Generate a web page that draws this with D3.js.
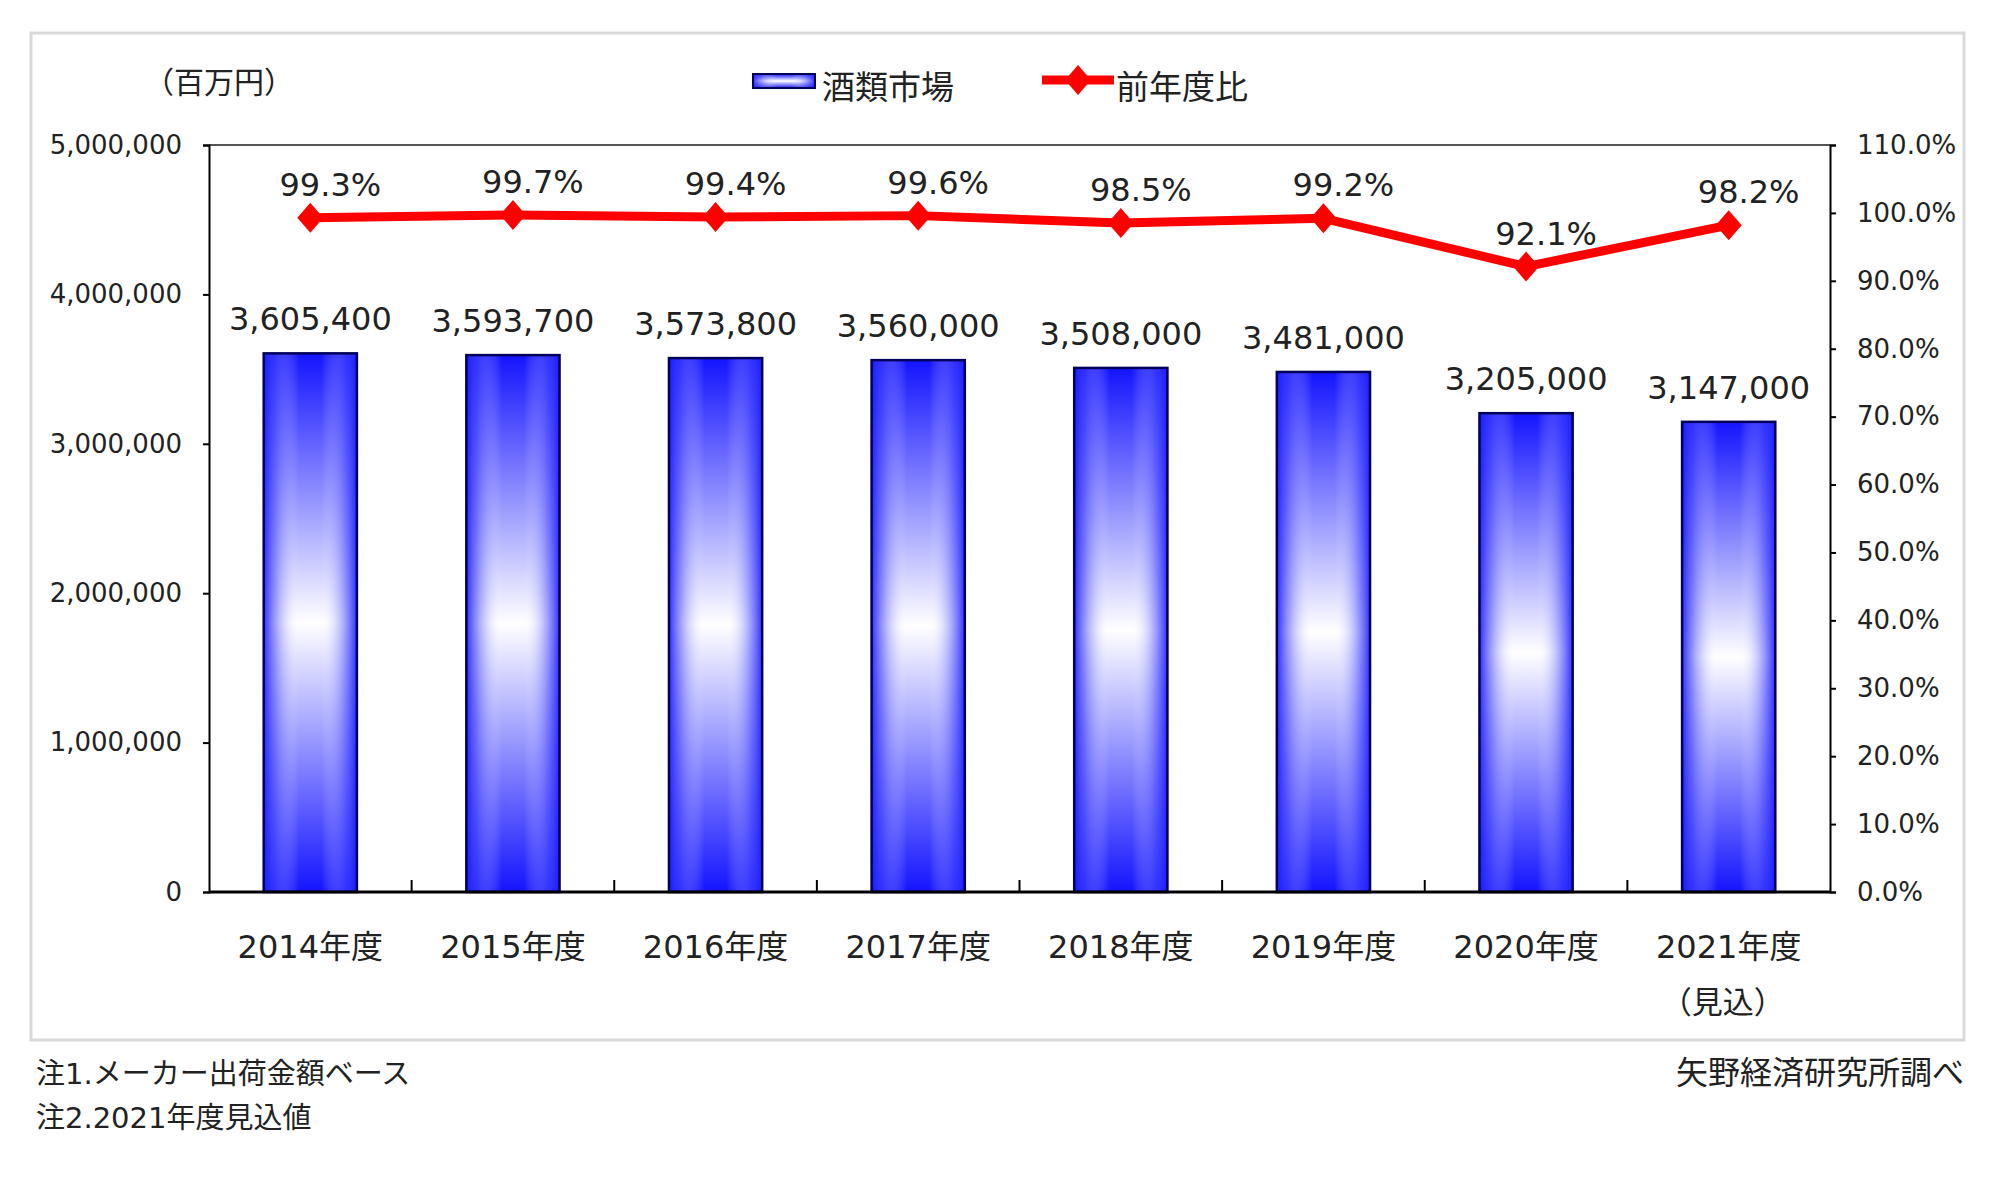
<!DOCTYPE html>
<html>
<head>
<meta charset="utf-8">
<script src="https://cdn.jsdelivr.net/npm/d3@7"></script>
<style>
  body { margin: 0; background: #fff; }
  text { font-family: "DejaVu Sans", "Noto Sans CJK JP", sans-serif; fill: #222; }
  .jp { font-family: "Noto Sans CJK JP", sans-serif; }
</style>
</head>
<body>
<svg id="chart" width="1993" height="1200"></svg>
<script>
"use strict";

// data
const years = ["2014年度", "2015年度", "2016年度", "2017年度", "2018年度", "2019年度", "2020年度", "2021年度"];
const market = [3605400, 3593700, 3573800, 3560000, 3508000, 3481000, 3205000, 3147000];
const ratio = [99.3, 99.7, 99.4, 99.6, 98.5, 99.2, 92.1, 98.2];
const leftTicks = [0, 1000000, 2000000, 3000000, 4000000, 5000000];
const rightTicks = [0, 10, 20, 30, 40, 50, 60, 70, 80, 90, 100, 110];
const notes = ["注1.メーカー出荷金額ベース", "注2.2021年度見込値"];

const W = 1993, H = 1200;
const plot = { left: 209, right: 1830, top: 145, bottom: 892 };

let svg = d3.select("#chart");
svg.append("rect").attr("width", W).attr("height", H).attr("fill", "#fff");

// outer frame
svg.append("rect")
  .attr("x", 31).attr("y", 33)
  .attr("width", 1933).attr("height", 1007)
  .attr("fill", "#fff")
  .attr("stroke", "#d9d9d9")
  .attr("stroke-width", 3);

let defs = svg.append("defs");
let gv = defs.append("linearGradient").attr("id", "barV")
  .attr("x1", 0).attr("y1", 0).attr("x2", 0).attr("y2", 1);
gv.append("stop").attr("offset", "0%").attr("stop-color", "#1414ff");
gv.append("stop").attr("offset", "50%").attr("stop-color", "#ffffff");
gv.append("stop").attr("offset", "100%").attr("stop-color", "#1414ff");

let gh = defs.append("linearGradient").attr("id", "barH")
  .attr("x1", 0).attr("y1", 0).attr("x2", 1).attr("y2", 0);
gh.append("stop").attr("offset", "0%").attr("stop-color", "#1a1aff").attr("stop-opacity", 0.9);
gh.append("stop").attr("offset", "12%").attr("stop-color", "#4a4aff").attr("stop-opacity", 0.55);
gh.append("stop").attr("offset", "38%").attr("stop-color", "#ffffff").attr("stop-opacity", 0);
gh.append("stop").attr("offset", "62%").attr("stop-color", "#ffffff").attr("stop-opacity", 0);
gh.append("stop").attr("offset", "88%").attr("stop-color", "#4a4aff").attr("stop-opacity", 0.55);
gh.append("stop").attr("offset", "100%").attr("stop-color", "#1a1aff").attr("stop-opacity", 0.9);

// scales
let x = d3.scaleBand()
  .domain(years)
  .range([plot.left, plot.right])
  .paddingInner(0.54)
  .paddingOuter(0.27);

let y = d3.scaleLinear().domain([0, 5000000]).range([plot.bottom, plot.top]);
let y2 = d3.scaleLinear().domain([0, 110]).range([plot.bottom, plot.top]);

// plot frame top line
svg.append("line")
  .attr("x1", plot.left).attr("x2", plot.right)
  .attr("y1", plot.top).attr("y2", plot.top)
  .attr("stroke", "#555").attr("stroke-width", 2);

// bars
let bars = svg.append("g").attr("id", "bars");
bars.selectAll("rect.base")
  .data(market)
  .enter()
  .append("rect")
  .attr("class", "base")
  .attr("x", (d, i) => x(years[i]))
  .attr("y", (d) => y(d))
  .attr("width", x.bandwidth())
  .attr("height", (d) => y(0) - y(d))
  .attr("fill", "url(#barV)");

bars.selectAll("rect.edge")
  .data(market)
  .enter()
  .append("rect")
  .attr("class", "edge")
  .attr("x", (d, i) => x(years[i]))
  .attr("y", (d) => y(d))
  .attr("width", x.bandwidth())
  .attr("height", (d) => y(0) - y(d))
  .attr("fill", "url(#barH)")
  .attr("stroke", "#00005a")
  .attr("stroke-width", 2.5);

// bar value labels
svg.append("g")
  .selectAll("text")
  .data(market)
  .enter()
  .append("text")
  .attr("x", (d, i) => x(years[i]) + x.bandwidth() / 2)
  .attr("y", (d) => y(d) - 23)
  .attr("text-anchor", "middle")
  .attr("font-size", 32)
  .attr("fill", "#333")
  .text((d) => d3.format(",")(d));

// left axis
let leftAxis = svg.append("g")
  .attr("transform", `translate(${plot.left},0)`)
  .call(d3.axisLeft(y).tickValues(leftTicks).tickFormat(d3.format(",")).tickSize(6).tickPadding(21));
leftAxis.select(".domain").attr("stroke", "#000").attr("stroke-width", 2);
leftAxis.selectAll("line").attr("stroke", "#000").attr("stroke-width", 2);
leftAxis.selectAll("text")
  .attr("font-size", 26)
  .attr("font-family", "DejaVu Sans")
  .attr("fill", "#333");

// right axis
let rightAxis = svg.append("g")
  .attr("transform", `translate(${plot.right},0)`)
  .call(d3.axisRight(y2).tickValues(rightTicks).tickFormat((d) => d.toFixed(1) + "%").tickSize(6).tickPadding(21));
rightAxis.select(".domain").attr("stroke", "#000").attr("stroke-width", 2);
rightAxis.selectAll("line").attr("stroke", "#000").attr("stroke-width", 2);
rightAxis.selectAll("text")
  .attr("font-size", 26)
  .attr("font-family", "DejaVu Sans")
  .attr("fill", "#333");

// bottom axis: ticks between categories, pointing into the plot
let boundaries = years.slice(1).map((d) => x(d) - x.step() * x.paddingInner() / 2);
svg.append("g")
  .selectAll("line")
  .data(boundaries)
  .enter()
  .append("line")
  .attr("x1", (d) => d).attr("x2", (d) => d)
  .attr("y1", plot.bottom).attr("y2", plot.bottom - 12)
  .attr("stroke", "#000").attr("stroke-width", 2);

svg.append("line")
  .attr("x1", plot.left).attr("x2", plot.right)
  .attr("y1", plot.bottom).attr("y2", plot.bottom)
  .attr("stroke", "#000").attr("stroke-width", 3);

svg.append("g")
  .selectAll("text")
  .data(years)
  .enter()
  .append("text")
  .attr("x", (d) => x(d) + x.bandwidth() / 2)
  .attr("y", 958)
  .attr("text-anchor", "middle")
  .attr("font-size", 32)
  .text((d) => d);

svg.append("text")
  .attr("class", "jp")
  .attr("x", x(years[years.length - 1]) + x.bandwidth() / 2 - 6)
  .attr("y", 1013)
  .attr("text-anchor", "middle")
  .attr("font-size", 31)
  .text("（見込）");

// ratio line
let lineGen = d3.line()
  .x((d, i) => x(years[i]) + x.bandwidth() / 2)
  .y((d) => y2(d));

svg.append("path")
  .datum(ratio)
  .attr("d", lineGen)
  .attr("fill", "none")
  .attr("stroke", "#ff0000")
  .attr("stroke-width", 9)
  .attr("stroke-linejoin", "round");

const diamond = "M0,-15L13,0L0,15L-13,0Z";
svg.append("g")
  .selectAll("path")
  .data(ratio)
  .enter()
  .append("path")
  .attr("d", diamond)
  .attr("transform", (d, i) => `translate(${x(years[i]) + x.bandwidth() / 2},${y2(d)})`)
  .attr("fill", "#ff0000");

svg.append("g")
  .selectAll("text")
  .data(ratio)
  .enter()
  .append("text")
  .attr("x", (d, i) => x(years[i]) + x.bandwidth() / 2 + 20)
  .attr("y", (d) => y2(d) - 22)
  .attr("text-anchor", "middle")
  .attr("font-size", 32)
  .attr("fill", "#333")
  .text((d) => d.toFixed(1) + "%");

// unit label
svg.append("text")
  .attr("class", "jp")
  .attr("x", 144)
  .attr("y", 93)
  .attr("font-size", 30)
  .text("（百万円）");

// legend
let legend = svg.append("g").attr("id", "legend");
legend.append("rect")
  .attr("x", 753).attr("y", 74)
  .attr("width", 62).attr("height", 14)
  .attr("fill", "url(#barV)");
legend.append("rect")
  .attr("x", 753).attr("y", 74)
  .attr("width", 62).attr("height", 14)
  .attr("fill", "url(#barH)")
  .attr("stroke", "#00005a")
  .attr("stroke-width", 2);
legend.append("text")
  .attr("class", "jp")
  .attr("x", 822).attr("y", 99)
  .attr("font-size", 33)
  .text("酒類市場");

legend.append("line")
  .attr("x1", 1042).attr("x2", 1114)
  .attr("y1", 80).attr("y2", 80)
  .attr("stroke", "#ff0000").attr("stroke-width", 9);
legend.append("path")
  .attr("d", diamond)
  .attr("transform", "translate(1078,80)")
  .attr("fill", "#ff0000");
legend.append("text")
  .attr("class", "jp")
  .attr("x", 1116).attr("y", 99)
  .attr("font-size", 33)
  .text("前年度比");

// notes
svg.append("g")
  .selectAll("text")
  .data(notes)
  .enter()
  .append("text")
  .attr("x", 36)
  .attr("y", (d, i) => 1084 + i * 44)
  .attr("font-size", 29)
  .text((d) => d);

svg.append("text")
  .attr("class", "jp")
  .attr("x", 1964)
  .attr("y", 1084)
  .attr("text-anchor", "end")
  .attr("font-size", 32)
  .text("矢野経済研究所調べ");
</script>
</body>
</html>
